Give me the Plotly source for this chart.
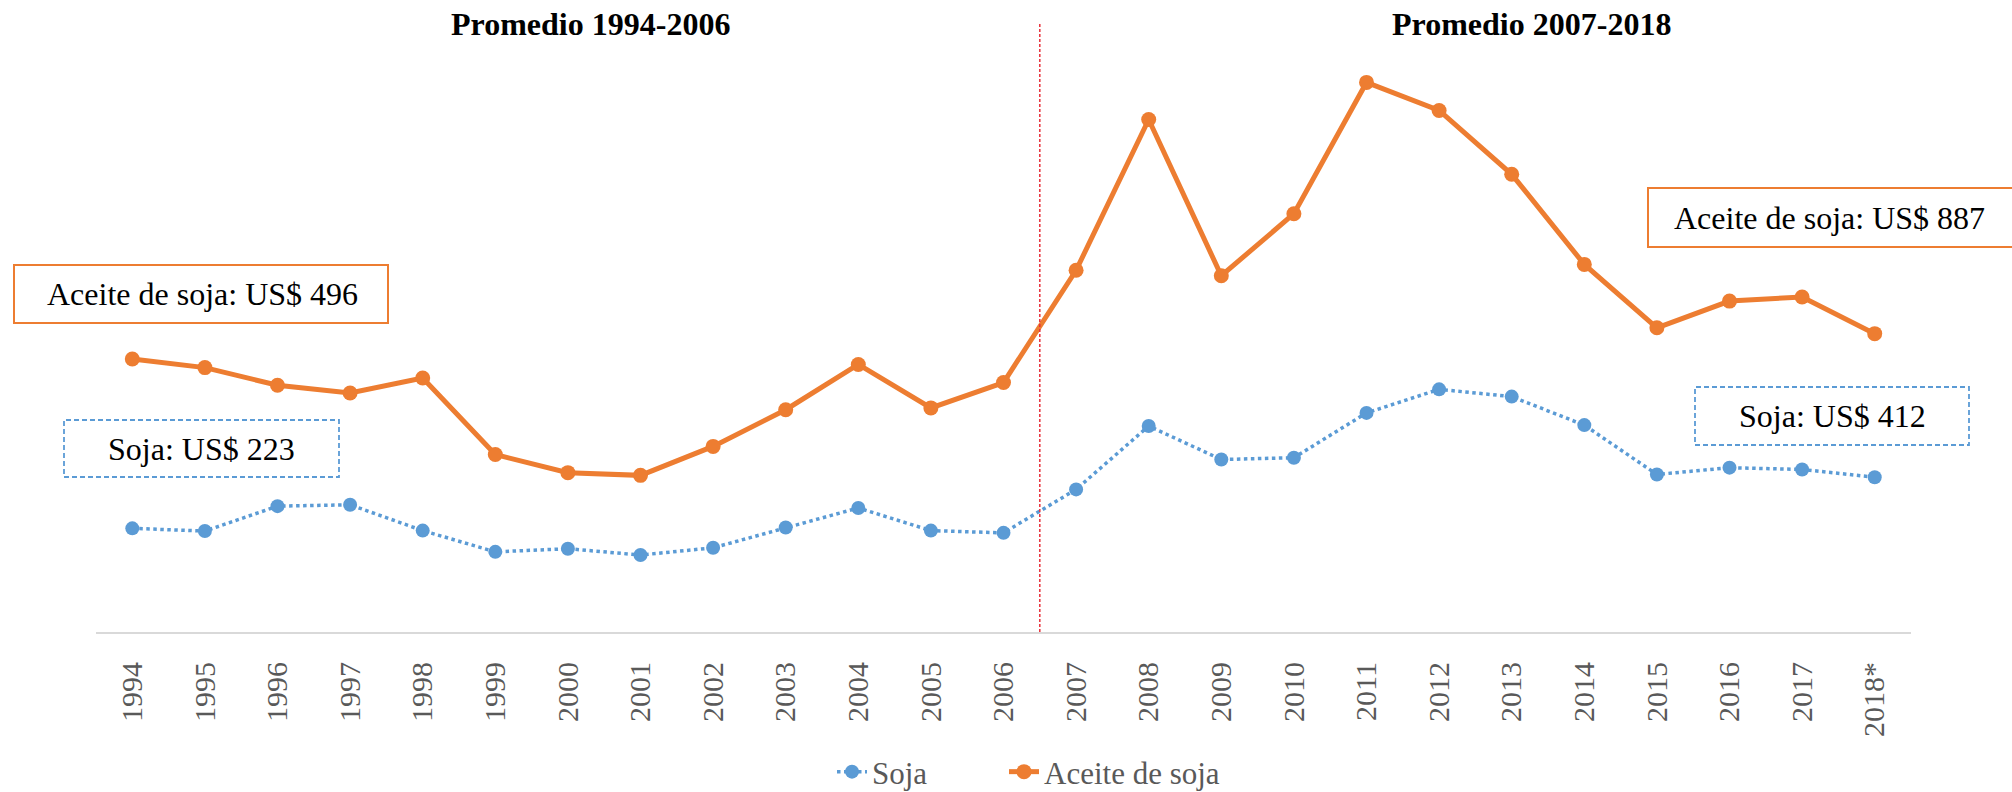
import plotly.graph_objects as go

# Precios internacionales (US$ por tonelada)
years = [
    "1994", "1995", "1996", "1997", "1998", "1999", "2000", "2001", "2002",
    "2003", "2004", "2005", "2006", "2007", "2008", "2009", "2010", "2011",
    "2012", "2013", "2014", "2015", "2016", "2017", "2018*",
]
soja = [
    229, 223, 278, 281, 224, 177, 184, 170, 186, 231, 274, 224, 219,
    315, 455, 381, 385, 484, 536, 520, 457, 348, 363, 359, 342,
]
aceite_soja = [
    603, 584, 545, 528, 561, 392, 352, 346, 410, 491, 591, 495, 551,
    799, 1132, 787, 924, 1214, 1152, 1011, 812, 672, 731, 740, 659,
]
period_titles = ["Promedio 1994-2006", "Promedio 2007-2018"]
avg_labels = [
    ("Aceite de soja: US$ 496", "aceite"),
    ("Soja: US$ 223", "soja"),
    ("Aceite de soja: US$ 887", "aceite"),
    ("Soja: US$ 412", "soja"),
]

BLUE = "#5B9BD5"
ORANGE = "#ED7D31"
SERIF = "Liberation Serif, Times New Roman, serif"

W, H = 2012, 792
L, R, T, B = 96, 101, 20, 160
PW, PH = W - L - R, H - T - B


def px_x(x):
    return (x - L) / PW


def px_y(y):
    return (H - B - y) / PH


fig = go.Figure()
fig.add_trace(
    go.Scatter(
        x=years, y=soja, name="Soja", mode="lines+markers",
        line=dict(color=BLUE, width=3.5, dash="dot"),
        marker=dict(color=BLUE, size=14), legend="legend",
    )
)
fig.add_trace(
    go.Scatter(
        x=years, y=aceite_soja, name="Aceite de soja", mode="lines+markers",
        line=dict(color=ORANGE, width=5),
        marker=dict(color=ORANGE, size=15), legend="legend2",
    )
)

shapes = [
    dict(
        type="line", xref="x", yref="paper", x0=12.5, x1=12.5,
        y0=0, y1=px_y(23), line=dict(color="#E8303A", width=1.5, dash="3px,2px"),
    )
]
# cajas de promedio: (x0, y0, x1, y1) en px
boxes = [(14, 265, 388, 323), (64, 420, 339, 477), (1648, 188, 2030, 247), (1695, 387, 1969, 445)]
centers = [(202, 294), (201, 449), (1829, 218), (1832, 416)]
annotations = []
for (text, kind), (bx0, by0, bx1, by1), (cx, cy) in zip(avg_labels, boxes, centers):
    if kind == "aceite":
        border = dict(color=ORANGE, width=2)
    else:
        border = dict(color=BLUE, width=1.8, dash="5px,3px")
    shapes.append(
        dict(
            type="rect", xref="paper", yref="paper",
            x0=px_x(bx0), x1=px_x(bx1), y0=px_y(by1), y1=px_y(by0),
            line=border, fillcolor="white", layer="below",
        )
    )
    annotations.append(
        dict(
            text=text, xref="paper", yref="paper", x=px_x(cx), y=px_y(cy),
            xanchor="center", yanchor="middle", showarrow=False,
            font=dict(family=SERIF, size=32, color="black"),
        )
    )

for title, cx in zip(period_titles, [590, 1531]):
    annotations.append(
        dict(
            text=f"<b>{title}</b>", xref="paper", yref="paper",
            x=px_x(cx), y=px_y(24), xanchor="center", yanchor="middle",
            showarrow=False, font=dict(family=SERIF, size=32, color="black"),
        )
    )

legend_style = dict(
    orientation="h", yanchor="middle", y=px_y(772), xanchor="left",
    bgcolor="rgba(0,0,0,0)", font=dict(family=SERIF, size=31, color="#595959"),
)

fig.update_layout(
    width=W, height=H,
    margin=dict(l=L, r=R, t=T, b=B, autoexpand=False),
    plot_bgcolor="white", paper_bgcolor="white",
    font=dict(family=SERIF, color="#595959"),
    showlegend=True,
    xaxis=dict(
        type="category", range=[-0.5, len(years) - 0.5], automargin=False,
        showgrid=False, zeroline=False,
        showline=True, linecolor="#D9D9D9", linewidth=2,
        ticks="", tickangle=-90, ticklabelstandoff=16,
        tickfont=dict(family=SERIF, size=30, color="#595959"),
    ),
    yaxis=dict(visible=False, range=[0, PH / 0.4527], showgrid=False, zeroline=False),
    legend=dict(x=px_x(832), **legend_style),
    legend2=dict(x=px_x(1004), **legend_style),
    shapes=shapes,
    annotations=annotations,
)

fig.write_html(
    "out.html",
    config={"displayModeBar": False},
    post_script="document.body.style.margin = '0';",
)
